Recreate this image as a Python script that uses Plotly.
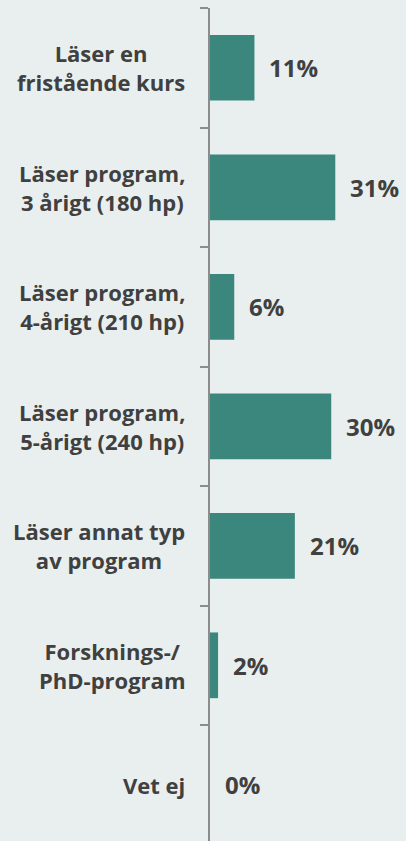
import plotly.graph_objects as go

categories = [
    "Läser en<br>fristående kurs",
    "Läser program,<br>3 årigt (180 hp)",
    "Läser program,<br>4-årigt (210 hp)",
    "Läser program,<br>5-årigt (240 hp)",
    "Läser annat typ<br>av program",
    "Forsknings-/<br>PhD-program",
    "Vet ej",
]
values = [11, 31, 6, 30, 21, 2, 0]
value_labels = [f"{v}%" for v in values]

BG = "#e8efee"
BAR = "#3b877d"
TEXT = "#404040"
AXIS = "#8c8c8c"
FONT = "Open Sans"

fig = go.Figure(go.Bar(
    x=values, y=categories, orientation="h",
    marker=dict(color=BAR, line=dict(width=0)),
    width=0.55, hoverinfo="skip",
))

annotations = []
for cat, v, lab in zip(categories, values, value_labels):
    # value label just right of the bar end
    annotations.append(dict(
        x=v, y=cat, xref="x", yref="y", text=f"<b>{lab}</b>",
        showarrow=False, xanchor="left", yanchor="middle", xshift=13,
        font=dict(family=FONT, size=24, color=TEXT),
    ))
    # category label, block right-aligned, lines centered
    annotations.append(dict(
        x=0, y=cat, xref="paper", yref="y", text=f"<b>{cat}</b>",
        showarrow=False, xanchor="right", yanchor="middle", xshift=-23,
        align="center", font=dict(family=FONT, size=22, color=TEXT),
    ))

fig.update_layout(
    width=406, height=841,
    margin=dict(l=210, r=0, t=8, b=0),
    paper_bgcolor=BG, plot_bgcolor=BG,
    showlegend=False,
    annotations=annotations,
    xaxis=dict(range=[0, 48.5], visible=False, fixedrange=True),
    yaxis=dict(
        type="category", categoryorder="array", categoryarray=categories,
        range=[6.47, -0.5], showticklabels=False, showgrid=False,
        showline=True, linecolor=AXIS, linewidth=2,
        ticks="outside", tickson="boundaries", ticklen=8,
        tickcolor=AXIS, tickwidth=2, zeroline=False, fixedrange=True,
    ),
)

# drop the default page margin so the figure sits at the top-left corner
fig.write_html(
    "out.html",
    config={"displayModeBar": False},
    post_script=f"document.body.style.margin='0';document.body.style.background='{BG}';",
)
